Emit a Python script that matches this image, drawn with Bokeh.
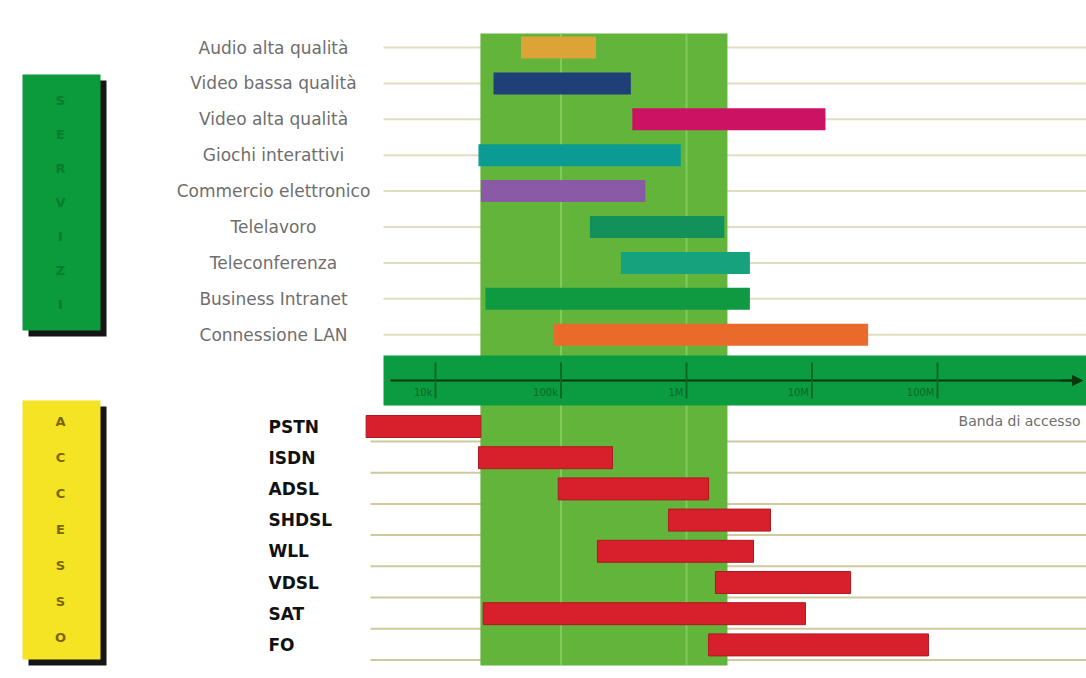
import math
from bokeh.plotting import figure
from bokeh.models import Range1d, ColumnDataSource, Arrow, NormalHead
from bokeh.core.properties import value
from bokeh.embed import file_html
from bokeh.resources import INLINE

# ---------------- data (bit rate, kbit/s, log scale) ----------------
services = ["Audio alta qualità", "Video bassa qualità", "Video alta qualità",
            "Giochi interattivi", "Commercio elettronico", "Telelavoro",
            "Teleconferenza", "Business Intranet", "Connessione LAN"]
service_min = [48, 29, 370, 22, 23, 170, 300, 25, 87]
service_max = [190, 360, 12800, 900, 470, 2000, 3200, 3200, 28000]
service_colors = ["#dca436", "#1e3f78", "#cc1262", "#0b9b92", "#8a5aa6",
                  "#12915a", "#16a27c", "#0f9a42", "#e96a2a"]

access = ["PSTN", "ISDN", "ADSL", "SHDSL", "WLL", "VDSL", "SAT", "FO"]
access_min = [2.8, 22, 95, 720, 195, 1700, 24, 1500]
access_max = [23, 257, 1500, 4670, 3420, 20300, 8870, 84700]

band_range = [22.8, 2120]          # highlighted region
tick_values = [10, 100, 1000, 10000, 100000]
tick_labels = ["10k", "100k", "1M", "10M", "100M"]
axis_title = "Banda di accesso"
box_top_text = "SERVIZI"
box_bottom_text = "ACCESSO"

# ---------------- layout ----------------
W, H = 1086, 678
PX_DEC = 125.5     # pixels per decade
PX_10 = 435.0      # pixel of 10 kbit/s

def px2x(px):
    return 10 ** (1 + (px - PX_10) / PX_DEC)

p = figure(width=W, height=H, x_axis_type="log",
           x_range=Range1d(px2x(0), px2x(W)), y_range=Range1d(H, 0),
           output_backend="svg", toolbar_location=None,
           min_border=0, x_axis_location=None, y_axis_location=None)
p.outline_line_color = None
p.grid.visible = False
p.background_fill_color = "white"

top_y = [47 + i * 35.9 for i in range(len(services))]
bot_y = [426 + j * 31.2 for j in range(len(access))]

# row guide lines
p.segment(x0=[px2x(383)] * len(top_y), x1=[px2x(W)] * len(top_y), y0=top_y, y1=top_y,
          line_color="#e2dcc0", line_width=2)
bl = [y + 15 for y in bot_y]
p.segment(x0=[px2x(370)] * len(bl), x1=[px2x(W)] * len(bl), y0=bl, y1=bl,
          line_color="#cfc99e", line_width=2)

# highlighted green region
p.quad(left=[band_range[0]], right=[band_range[1]], top=[33], bottom=[665],
       fill_color="#63b43a", line_color=None)
p.segment(x0=[100, 1000], x1=[100, 1000], y0=[33, 33], y1=[665, 665],
          line_color="#9ad874", line_width=2, line_alpha=0.6)

# service bars
src_s = ColumnDataSource(dict(left=service_min, right=service_max, y=top_y,
                              color=service_colors, label=services))
p.hbar(y="y", left="left", right="right", height=22, fill_color="color",
       line_color=None, source=src_s)

# access bars
src_a = ColumnDataSource(dict(left=access_min, right=access_max, y=bot_y, label=access))
p.hbar(y="y", left="left", right="right", height=22, fill_color="#d8202c",
       line_color="#b01820", line_width=1, source=src_a)

# axis band
p.quad(left=[px2x(383)], right=[px2x(W)], top=[355], bottom=[405],
       fill_color="#0b9b40", line_color=None)
p.segment(x0=[px2x(390)], x1=[px2x(1075)], y0=[380], y1=[380],
          line_color="#07360f", line_width=2)
p.add_layout(Arrow(end=NormalHead(size=10, fill_color="#07360f", line_color="#07360f"),
                   x_start=px2x(1060), x_end=px2x(1082), y_start=380, y_end=380,
                   line_color="#07360f", line_width=2))
p.segment(x0=tick_values, x1=tick_values, y0=[362] * 5, y1=[398] * 5,
          line_color="#066a22", line_width=2)
p.text(x=tick_values, y=[392] * 5, text=tick_labels, text_align="right",
       text_baseline="middle", text_font_size="10px", text_color="#0a6a24",
       x_offset=-3, text_font=value("DejaVu Sans"))
p.text(x=[px2x(1080)], y=[420], text=[axis_title], text_align="right",
       text_baseline="middle", text_font_size="14px", text_color="#6e6e6e",
       text_font=value("DejaVu Sans"))

# labels
p.text(x=[px2x(273)] * len(services), y=top_y, text=services, text_align="center",
       text_baseline="middle", text_font_size="17px", text_color="#6e6e6e",
       text_font=value("DejaVu Sans"))
p.text(x=[px2x(268)] * len(access), y=bot_y, text=access, text_align="left",
       text_baseline="middle", text_font_size="17px", text_color="#111111",
       text_font_style="bold", text_font=value("DejaVu Sans"))

# side boxes with shadows
p.quad(left=[px2x(28)], right=[px2x(106)], top=[80], bottom=[336],
       fill_color="#151515", line_color=None)
p.quad(left=[px2x(22)], right=[px2x(100)], top=[74], bottom=[330],
       fill_color="#0b9a3c", line_color=None)
p.quad(left=[px2x(28)], right=[px2x(106)], top=[406], bottom=[665],
       fill_color="#151515", line_color=None)
p.quad(left=[px2x(22)], right=[px2x(100)], top=[400], bottom=[659],
       fill_color="#f4e424", line_color=None)

ty = [100 + k * 34 for k in range(len(box_top_text))]
p.text(x=[px2x(60)] * len(ty), y=ty, text=list(box_top_text), text_align="center",
       text_baseline="middle", text_font_size="13px", text_color="#077c2c",
       text_font_style="bold", text_font=value("DejaVu Sans"))
by = [421 + k * 36 for k in range(len(box_bottom_text))]
p.text(x=[px2x(60)] * len(by), y=by, text=list(box_bottom_text), text_align="center",
       text_baseline="middle", text_font_size="13px", text_color="#7a6500",
       text_font_style="bold", text_font=value("DejaVu Sans"))

open("out.html", "w").write(file_html(p, INLINE))
